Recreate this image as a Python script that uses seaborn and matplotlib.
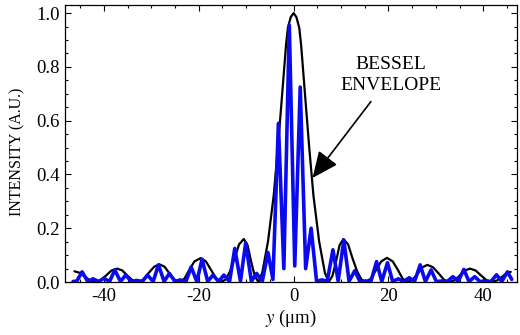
import numpy as np
import matplotlib
matplotlib.use("Agg")
import matplotlib.pyplot as plt
import seaborn as sns
from matplotlib.ticker import MultipleLocator

sns.set_style("ticks")
plt.rcParams["font.family"] = ["Liberation Serif", "DejaVu Serif"]
plt.rcParams["mathtext.fontset"] = "stix"
plt.rcParams["axes.unicode_minus"] = False
plt.rcParams["text.color"] = "black"
plt.rcParams["axes.labelcolor"] = "black"

# ------------------------------------------------------
# Data
# ------------------------------------------------------

# Bessel envelope (black)
env_y = [-46.2, -45.0, -44.0, -42.9, -41.8,
         -40.7, -39.5, -38.4, -37.2, -36.1, -35.1, -34.0, -32.8,
         -31.7, -30.6, -29.4, -28.3, -27.2, -26.2, -25.1, -24.0,
         -23.0, -22.0, -20.9, -19.6, -18.5, -17.4, -16.3, -15.2,
         -14.3, -13.4, -12.4, -11.5, -10.5, -9.7, -9.0, -8.2, -7.4,
         -6.6, -5.4, -4.2, -3.3, -2.4, -1.6, -1.2, -0.6, 0.0,
         0.6, 1.2, 1.6, 2.4, 3.3, 4.2, 5.4, 6.6,
         7.4, 8.2, 9.0, 9.7, 10.5, 11.5, 12.4, 13.4, 14.3, 15.2,
         16.3, 17.4, 18.5, 19.7, 20.9, 22.0, 23.0, 24.0,
         25.1, 26.2, 27.2, 28.2, 29.4, 30.6, 31.7, 32.8,
         34.0, 35.1, 36.1, 37.2, 38.4, 39.5, 40.7, 41.8,
         42.9, 44.0, 45.0, 45.8]
env_i = [0.040, 0.034, 0.020, 0.006, 0.000,
         0.007, 0.025, 0.043, 0.050, 0.043, 0.025, 0.007, 0.000,
         0.009, 0.033, 0.057, 0.066, 0.057, 0.033, 0.009, 0.000,
         0.013, 0.045, 0.077, 0.089, 0.077, 0.045, 0.013, 0.000,
         0.010, 0.040, 0.090, 0.140, 0.160, 0.137, 0.080, 0.023, 0.000,
         0.035, 0.150, 0.320, 0.500, 0.700, 0.880, 0.945, 0.985, 1.000,
         0.985, 0.945, 0.880, 0.700, 0.500, 0.320, 0.150, 0.035,
         0.000, 0.023, 0.080, 0.137, 0.160, 0.140, 0.090, 0.040, 0.010, 0.000,
         0.013, 0.045, 0.077, 0.090, 0.077, 0.045, 0.013, 0.000,
         0.009, 0.032, 0.055, 0.064, 0.055, 0.032, 0.009, 0.000,
         0.007, 0.025, 0.043, 0.050, 0.043, 0.025, 0.007, 0.000,
         0.006, 0.020, 0.034, 0.038]

# Fringe pattern (blue): peaks and valleys
fr_y = [-46.5, -45.7, -44.6, -43.4, -42.3, -41.1, -40.0, -38.8, -37.7, -36.5,
        -35.4, -34.2, -33.1, -31.9, -30.8, -29.6, -28.5, -27.3, -26.2, -25.0,
        -23.9, -22.7, -21.6, -20.4, -19.3, -18.1, -17.0, -15.8, -14.7, -13.5,
        -12.4, -11.2, -10.1, -8.9, -7.8, -6.6, -5.4, -4.35, -3.2, -2.05,
        -0.9, 0.25, 1.4, 2.55, 3.7, 4.85, 6.0, 7.1, 8.3, 9.4,
        10.6, 11.7, 12.9, 14.0, 15.2, 16.3, 17.5, 18.6, 19.8, 20.9,
        22.1, 23.2, 24.4, 25.5, 26.7, 27.8, 29.0, 30.1, 31.3, 32.4,
        33.6, 34.7, 35.9, 37.0, 38.2, 39.3, 40.5, 41.6, 42.8, 43.9,
        45.1, 46.0]
fr_i = [0.002, 0.004, 0.038, 0.002, 0.012, 0.002, 0.014, 0.002, 0.045, 0.002,
        0.026, 0.002, 0.006, 0.002, 0.026, 0.002, 0.064, 0.002, 0.032, 0.002,
        0.008, 0.002, 0.056, 0.002, 0.085, 0.002, 0.026, 0.002, 0.026, 0.002,
        0.125, 0.003, 0.146, 0.003, 0.032, 0.003, 0.110, 0.010, 0.590, 0.050,
        0.955, 0.060, 0.725, 0.050, 0.200, 0.003, 0.008, 0.003, 0.120, 0.004,
        0.156, 0.003, 0.042, 0.002, 0.004, 0.002, 0.076, 0.002, 0.072, 0.002,
        0.012, 0.002, 0.016, 0.002, 0.064, 0.002, 0.045, 0.002, 0.004, 0.002,
        0.020, 0.002, 0.047, 0.002, 0.020, 0.002, 0.004, 0.002, 0.027, 0.002,
        0.038, 0.010]

y_ticks = [0.0, 0.2, 0.4, 0.6, 0.8, 1.0]
x_ticks = [-40, -20, 0, 20, 40]

# ------------------------------------------------------
# Plot
# ------------------------------------------------------

fig, ax = plt.subplots(figsize=(5.2, 3.35), dpi=100)
fig.subplots_adjust(left=0.125, right=0.995, top=0.985, bottom=0.158)

sns.lineplot(x=env_y, y=env_i, color="black", linewidth=1.6, estimator=None,
             sort=False, ax=ax, zorder=2)
sns.lineplot(x=fr_y, y=fr_i, color="#0a0af0", linewidth=2.6, estimator=None,
             sort=False, ax=ax, zorder=3)

ax.set_xlim(-48.2, 47.2)
ax.set_ylim(0, 1.03)
ax.set_xticks(x_ticks)
ax.set_yticks(y_ticks)
ax.set_yticklabels([f"{v:.1f}" for v in y_ticks])
ax.xaxis.set_minor_locator(MultipleLocator(5))
ax.yaxis.set_minor_locator(MultipleLocator(0.05))
ax.tick_params(which="both", direction="in", top=True, right=True,
               labelsize=13.5, width=0.8, colors="black")
ax.tick_params(which="major", length=4.5, pad=4)
ax.tick_params(which="minor", length=2.5)
for s in ax.spines.values():
    s.set_linewidth(0.9)
    s.set_color("black")

ax.set_xlabel(r"$y$ (μm)", fontsize=13.5, labelpad=2)
ax.set_ylabel("INTENSITY (A.U.)", fontsize=11.5)
ax.yaxis.set_label_coords(-0.088, 0.47)

ax.annotate("BESSEL\nENVELOPE", xy=(4.0, 0.387), xytext=(20.6, 0.77),
            ha="center", va="center", fontsize=14, linespacing=1.3,
            arrowprops=dict(arrowstyle="-|>,head_length=0.9,head_width=0.4",
                            color="black", lw=1.2, mutation_scale=18,
                            shrinkA=4, shrinkB=0))

fig.savefig("out.png", dpi=100)
